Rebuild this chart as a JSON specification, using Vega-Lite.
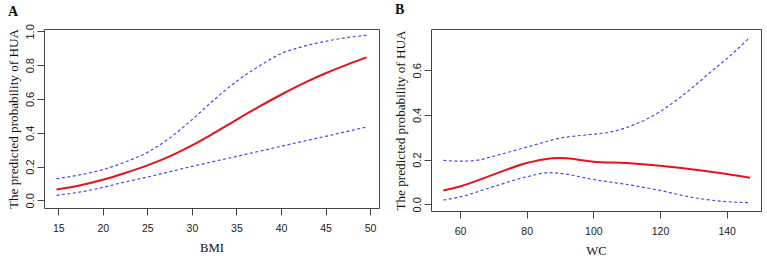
{
  "$schema": "https://vega.github.io/schema/vega-lite/v6.json",
  "background": "white",
  "padding": {"left": 5, "top": 2, "right": 0, "bottom": 0},
  "bounds": "flush",
  "spacing": 52,
  "datasets": {
    "bmi": [
      {"x": 14.8, "series": "fit", "p": 0.064},
      {"x": 17.5, "series": "fit", "p": 0.09},
      {"x": 20, "series": "fit", "p": 0.122},
      {"x": 22.5, "series": "fit", "p": 0.162},
      {"x": 25, "series": "fit", "p": 0.207},
      {"x": 27.5, "series": "fit", "p": 0.26},
      {"x": 30, "series": "fit", "p": 0.325},
      {"x": 32.5, "series": "fit", "p": 0.399},
      {"x": 35, "series": "fit", "p": 0.477},
      {"x": 37.5, "series": "fit", "p": 0.553},
      {"x": 40, "series": "fit", "p": 0.625},
      {"x": 42.5, "series": "fit", "p": 0.692},
      {"x": 45, "series": "fit", "p": 0.752},
      {"x": 47.5, "series": "fit", "p": 0.805},
      {"x": 49.6, "series": "fit", "p": 0.846},
      {"x": 14.8, "series": "upper", "p": 0.128},
      {"x": 17.5, "series": "upper", "p": 0.152},
      {"x": 20, "series": "upper", "p": 0.182},
      {"x": 22.5, "series": "upper", "p": 0.227},
      {"x": 25, "series": "upper", "p": 0.284},
      {"x": 27.5, "series": "upper", "p": 0.369},
      {"x": 30, "series": "upper", "p": 0.477},
      {"x": 32.5, "series": "upper", "p": 0.596},
      {"x": 35, "series": "upper", "p": 0.704},
      {"x": 37.5, "series": "upper", "p": 0.793},
      {"x": 40, "series": "upper", "p": 0.868},
      {"x": 42.5, "series": "upper", "p": 0.911},
      {"x": 45, "series": "upper", "p": 0.941},
      {"x": 47.5, "series": "upper", "p": 0.964},
      {"x": 49.6, "series": "upper", "p": 0.976},
      {"x": 14.8, "series": "lower", "p": 0.03},
      {"x": 17.5, "series": "lower", "p": 0.05},
      {"x": 20, "series": "lower", "p": 0.077},
      {"x": 22.5, "series": "lower", "p": 0.109},
      {"x": 25, "series": "lower", "p": 0.138},
      {"x": 30, "series": "lower", "p": 0.201},
      {"x": 35, "series": "lower", "p": 0.26},
      {"x": 40, "series": "lower", "p": 0.32},
      {"x": 45, "series": "lower", "p": 0.379},
      {"x": 49.6, "series": "lower", "p": 0.434}
    ],
    "wc": [
      {"x": 55, "series": "fit", "p": 0.062},
      {"x": 60, "series": "fit", "p": 0.08},
      {"x": 70, "series": "fit", "p": 0.133},
      {"x": 80, "series": "fit", "p": 0.185},
      {"x": 85, "series": "fit", "p": 0.201},
      {"x": 90, "series": "fit", "p": 0.207},
      {"x": 95, "series": "fit", "p": 0.201},
      {"x": 100, "series": "fit", "p": 0.191},
      {"x": 110, "series": "fit", "p": 0.185},
      {"x": 120, "series": "fit", "p": 0.173},
      {"x": 130, "series": "fit", "p": 0.156},
      {"x": 140, "series": "fit", "p": 0.136},
      {"x": 147, "series": "fit", "p": 0.119},
      {"x": 55, "series": "upper", "p": 0.197},
      {"x": 60, "series": "upper", "p": 0.193},
      {"x": 65, "series": "upper", "p": 0.197},
      {"x": 70, "series": "upper", "p": 0.215},
      {"x": 80, "series": "upper", "p": 0.256},
      {"x": 90, "series": "upper", "p": 0.296},
      {"x": 100, "series": "upper", "p": 0.314},
      {"x": 105, "series": "upper", "p": 0.323},
      {"x": 110, "series": "upper", "p": 0.344},
      {"x": 120, "series": "upper", "p": 0.415},
      {"x": 125, "series": "upper", "p": 0.467},
      {"x": 130, "series": "upper", "p": 0.526},
      {"x": 135, "series": "upper", "p": 0.59},
      {"x": 140, "series": "upper", "p": 0.652},
      {"x": 147, "series": "upper", "p": 0.748},
      {"x": 55, "series": "lower", "p": 0.019},
      {"x": 60, "series": "lower", "p": 0.033},
      {"x": 70, "series": "lower", "p": 0.079},
      {"x": 80, "series": "lower", "p": 0.123},
      {"x": 87, "series": "lower", "p": 0.142},
      {"x": 90, "series": "lower", "p": 0.139},
      {"x": 100, "series": "lower", "p": 0.111},
      {"x": 110, "series": "lower", "p": 0.089},
      {"x": 120, "series": "lower", "p": 0.062},
      {"x": 130, "series": "lower", "p": 0.03},
      {"x": 140, "series": "lower", "p": 0.012},
      {"x": 147, "series": "lower", "p": 0.007}
    ]
  },
  "config": {
    "view": {"stroke": "#444", "strokeWidth": 1},
    "axis": {
      "grid": false,
      "domain": false,
      "tickColor": "#444",
      "tickSize": 7,
      "labelFont": "Liberation Sans",
      "labelFontSize": 10.5,
      "labelColor": "#222",
      "titleFont": "Liberation Serif",
      "titleFontSize": 12.7,
      "titleFontWeight": "normal",
      "titleColor": "#111"
    },
    "axisY": {"labelAngle": 270, "labelAlign": "center", "labelBaseline": "bottom", "labelPadding": 2, "labelFontSize": 11, "titlePadding": 4, "titleFontSize": 13.2},
    "axisX": {"labelPadding": 8, "titlePadding": 8},
    "title": {"font": "Liberation Serif", "fontSize": 14, "fontWeight": "bold", "color": "#111", "anchor": "start", "frame": "group", "baseline": "alphabetic"}
  },
  "hconcat": [
    {
      "width": 335,
      "height": 179,
      "title": {"text": "A", "dx": -36, "offset": 5},
      "data": {"name": "bmi"},
      "encoding": {
        "x": {"field": "x", "type": "quantitative", "title": "BMI", "scale": {"domain": [13.4, 51.0], "nice": false, "zero": false}, "axis": {"values": [15, 20, 25, 30, 35, 40, 45, 50]}},
        "y": {"field": "p", "type": "quantitative", "title": "The predicted probability of HUA", "scale": {"domain": [-0.045, 1.014], "nice": false, "zero": false}, "axis": {"values": [0, 0.2, 0.4, 0.6, 0.8, 1.0], "format": ".1f"}},
        "detail": {"field": "series"}
      },
      "layer": [
        {"transform": [{"filter": "datum.series !== 'fit'"}], "mark": {"type": "line", "color": "#4a4af0", "strokeWidth": 1.2, "strokeDash": [3, 2.5], "interpolate": "monotone"}},
        {"transform": [{"filter": "datum.series === 'fit'"}], "mark": {"type": "line", "color": "#e8121a", "strokeWidth": 2, "interpolate": "monotone"}}
      ]
    },
    {
      "width": 330,
      "height": 182,
      "title": {"text": "B", "dx": -36, "offset": 11.7},
      "data": {"name": "wc"},
      "encoding": {
        "x": {"field": "x", "type": "quantitative", "title": "WC", "scale": {"domain": [51.3, 150.3], "nice": false, "zero": false}, "axis": {"values": [60, 80, 100, 120, 140]}},
        "y": {"field": "p", "type": "quantitative", "title": "The predicted probability of HUA", "scale": {"domain": [-0.03, 0.785], "nice": false, "zero": false}, "axis": {"values": [0, 0.2, 0.4, 0.6], "format": ".1f"}},
        "detail": {"field": "series"}
      },
      "layer": [
        {"transform": [{"filter": "datum.series !== 'fit'"}], "mark": {"type": "line", "color": "#4a4af0", "strokeWidth": 1.2, "strokeDash": [3, 2.5], "interpolate": "monotone"}},
        {"transform": [{"filter": "datum.series === 'fit'"}], "mark": {"type": "line", "color": "#e8121a", "strokeWidth": 2, "interpolate": "monotone"}}
      ]
    }
  ]
}
